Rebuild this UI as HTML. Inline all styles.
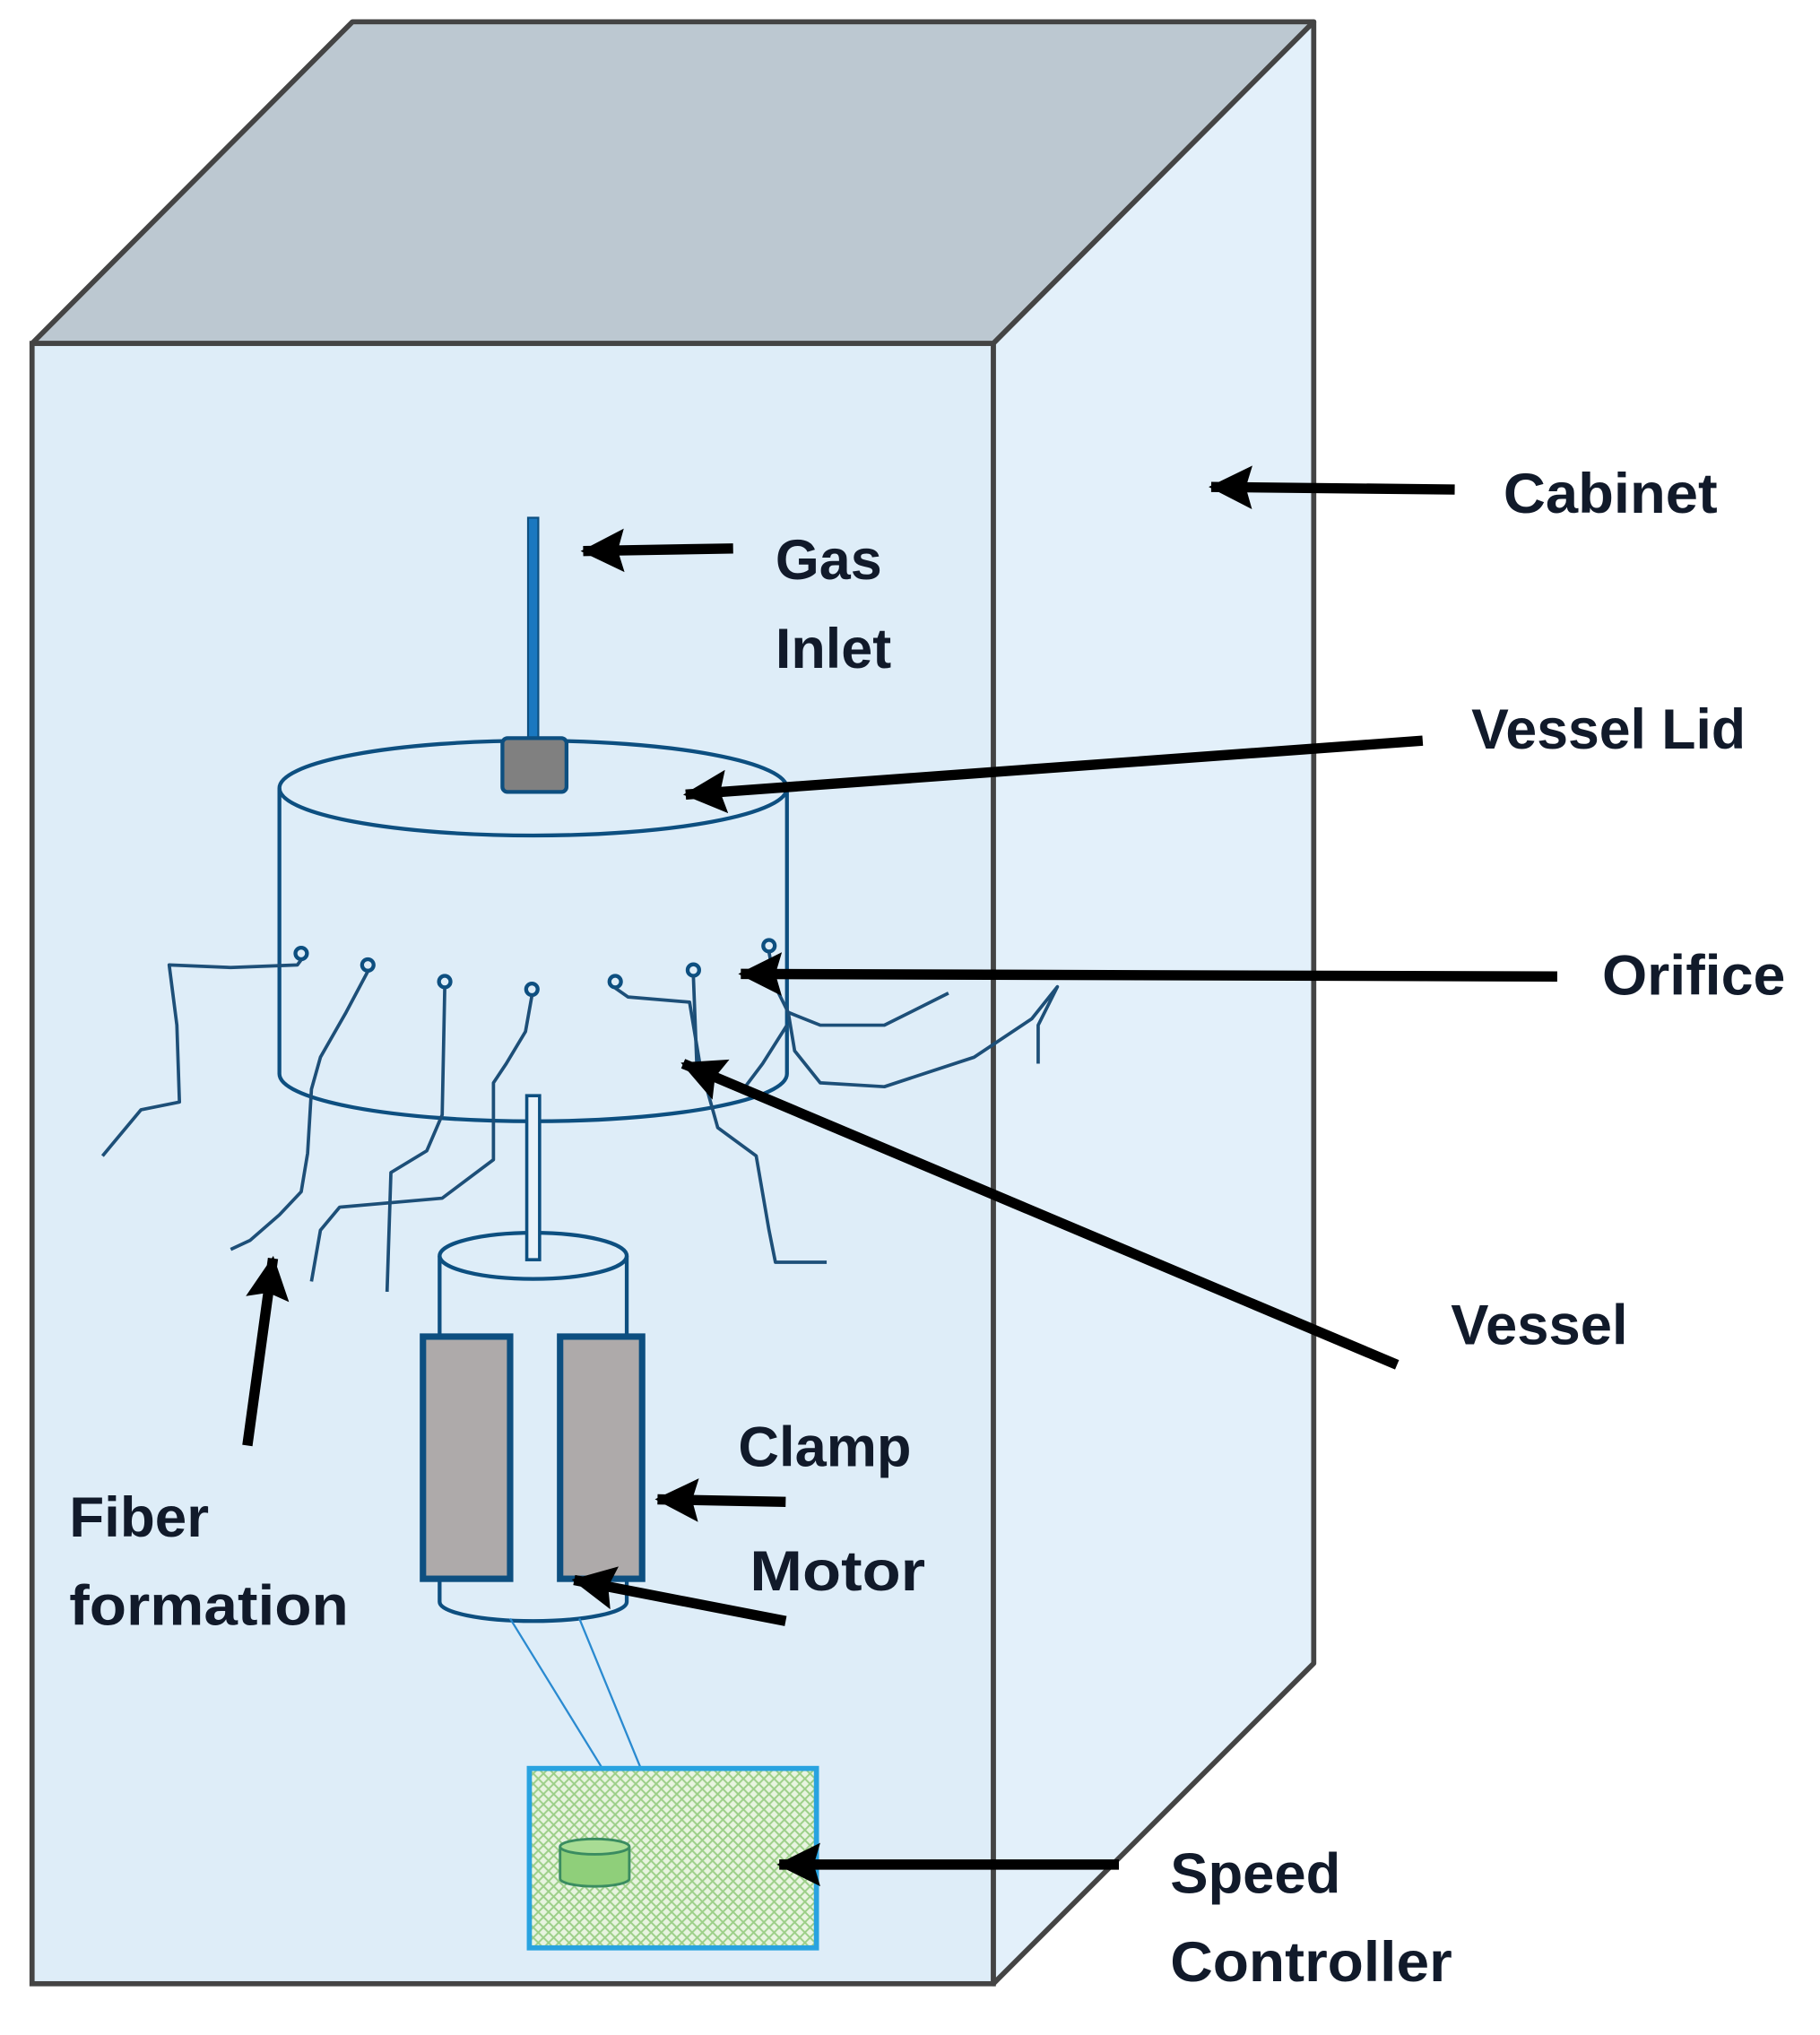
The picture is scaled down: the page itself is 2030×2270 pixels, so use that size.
<!DOCTYPE html>
<html><head><meta charset="utf-8"><style>html,body{margin:0;padding:0;background:#fff}svg{display:block}</style></head>
<body>
<svg width="2030" height="2270" viewBox="0 0 1420 1588" preserveAspectRatio="none" xmlns="http://www.w3.org/2000/svg">
<defs>
<marker id="ah" markerUnits="userSpaceOnUse" markerWidth="40" markerHeight="40" refX="32" refY="20" orient="auto">
<path d="M34,20 L0,3 L5,20 L0,37 Z" fill="#000"/>
</marker>
<pattern id="chk" width="8" height="8" patternUnits="userSpaceOnUse">
<rect width="8" height="8" fill="#e8f4e0"/>
<path d="M0,0 L8,8 M8,0 L0,8" stroke="#9ccf88" stroke-width="1.4"/>
</pattern>
</defs>
<rect width="1420" height="1588" fill="#fff"/>
<polygon points="25,268 275,17 1025,17 775,268" fill="#bcc8d1" stroke="#444" stroke-width="4" stroke-linejoin="round"/>
<polygon points="775,268 1025,17 1025,1298 775,1548" fill="#e3f0fa" stroke="#444" stroke-width="4" stroke-linejoin="round"/>
<rect x="25" y="268" width="750" height="1280" fill="#deedf8" stroke="#444" stroke-width="4"/>
<g fill="none" stroke="#0d4f80" stroke-width="3">
<path d="M218,615 L218,838 A198,37 0 0 0 614,838 L614,615"/>
<ellipse cx="416" cy="615" rx="198" ry="37"/>
</g>
<rect x="412" y="404" width="8" height="178" fill="#1a78c0" stroke="#0d4f80" stroke-width="1.5"/>
<rect x="392" y="576" width="50" height="42" rx="4" fill="#808080" stroke="#0d4f80" stroke-width="3"/>
<g fill="none" stroke="#0d4f80" stroke-width="3">
<circle cx="235" cy="744" r="4.5"/><circle cx="287" cy="753" r="4.5"/><circle cx="347" cy="766" r="4.5"/>
<circle cx="415" cy="772" r="4.5"/><circle cx="480" cy="766" r="4.5"/><circle cx="541" cy="757" r="4.5"/><circle cx="600" cy="738" r="4.5"/>
</g>
<g fill="none" stroke="#1d4f78" stroke-width="2.6" stroke-linejoin="round">
<path d="M235,749 L232,753 L180,755 L132,753 L138,800 L140,860 L110,866 L80,902"/>
<path d="M287,758 L270,790 L250,825 L243,850 L240,900 L235,930 L218,948 L195,968 L180,975"/>
<path d="M347,771 L345,870 L333,898 L305,915 L302,1008"/>
<path d="M415,777 L410,805 L395,830 L385,845 L385,905 L345,935 L265,942 L250,960 L243,1000"/>
<path d="M480,771 L490,778 L538,782 L546,830 L560,880 L590,902 L600,960 L605,985 L645,985"/>
<path d="M541,762 L544,840"/>
<path d="M600,743 L605,770 L615,790 L640,800 L690,800 L740,775"/>
<path d="M615,790 L620,820 L640,845 L690,848 L760,825 L805,795 L825,770 L810,800 L810,830"/>
<path d="M614,800 L595,830 L580,850"/>
</g>
<g fill="none" stroke="#0d4f80" stroke-width="3">
<path d="M343,980 L343,1250 A73,15 0 0 0 489,1250 L489,980"/>
<ellipse cx="416" cy="980" rx="73" ry="18"/>
</g>
<rect x="411" y="855" width="10" height="128" fill="#e8f2fa" stroke="#0d4f80" stroke-width="2.5"/>
<rect x="330" y="1043" width="68" height="189" fill="#aeaaaa" stroke="#0d4f80" stroke-width="5"/>
<rect x="437" y="1043" width="64" height="189" fill="#aeaaaa" stroke="#0d4f80" stroke-width="5"/>
<line x1="398" y1="1263" x2="470" y2="1380" stroke="#2a8ad0" stroke-width="1.6"/>
<line x1="452" y1="1263" x2="500" y2="1380" stroke="#2a8ad0" stroke-width="1.6"/>
<rect x="413" y="1380" width="224" height="140" fill="url(#chk)" stroke="#29a3e0" stroke-width="4"/>
<path d="M437,1441 L437,1466 A27,6 0 0 0 491,1466 L491,1441" fill="#8fcf7a" stroke="#3a8c60" stroke-width="2"/>
<ellipse cx="464" cy="1441" rx="27" ry="6" fill="#a8dc94" stroke="#3a8c60" stroke-width="2"/>
<g stroke="#000" stroke-width="8" marker-end="url(#ah)">
<line x1="1135" y1="382" x2="945" y2="380"/>
<line x1="572" y1="428" x2="455" y2="430"/>
<line x1="1110" y1="578" x2="535" y2="620"/>
<line x1="1215" y1="762" x2="578" y2="760"/>
<line x1="1090" y1="1065" x2="533" y2="830"/>
<line x1="193" y1="1128" x2="213" y2="982"/>
<line x1="613" y1="1172" x2="513" y2="1170"/>
<line x1="613" y1="1265" x2="448" y2="1233"/>
<line x1="873" y1="1455" x2="608" y2="1455"/>
</g>
<g font-family="Liberation Sans, sans-serif" font-weight="bold" font-size="44" fill="#111a2a">
<text x="1173" y="400" textLength="167" lengthAdjust="spacingAndGlyphs">Cabinet</text>
<text x="605" y="452">Gas</text>
<text x="605" y="521">Inlet</text>
<text x="1148" y="584" textLength="214" lengthAdjust="spacingAndGlyphs">Vessel Lid</text>
<text x="1250" y="776" textLength="143" lengthAdjust="spacingAndGlyphs">Orifice</text>
<text x="1132" y="1049" textLength="138" lengthAdjust="spacingAndGlyphs">Vessel</text>
<text x="576" y="1144" textLength="135" lengthAdjust="spacingAndGlyphs">Clamp</text>
<text x="585" y="1241" textLength="137" lengthAdjust="spacingAndGlyphs">Motor</text>
<text x="54" y="1199" textLength="109" lengthAdjust="spacingAndGlyphs">Fiber</text>
<text x="54" y="1268" textLength="218" lengthAdjust="spacingAndGlyphs">formation</text>
<text x="913" y="1477" textLength="133" lengthAdjust="spacingAndGlyphs">Speed</text>
<text x="913" y="1546" textLength="220" lengthAdjust="spacingAndGlyphs">Controller</text>
</g>
</svg>
</body></html>
